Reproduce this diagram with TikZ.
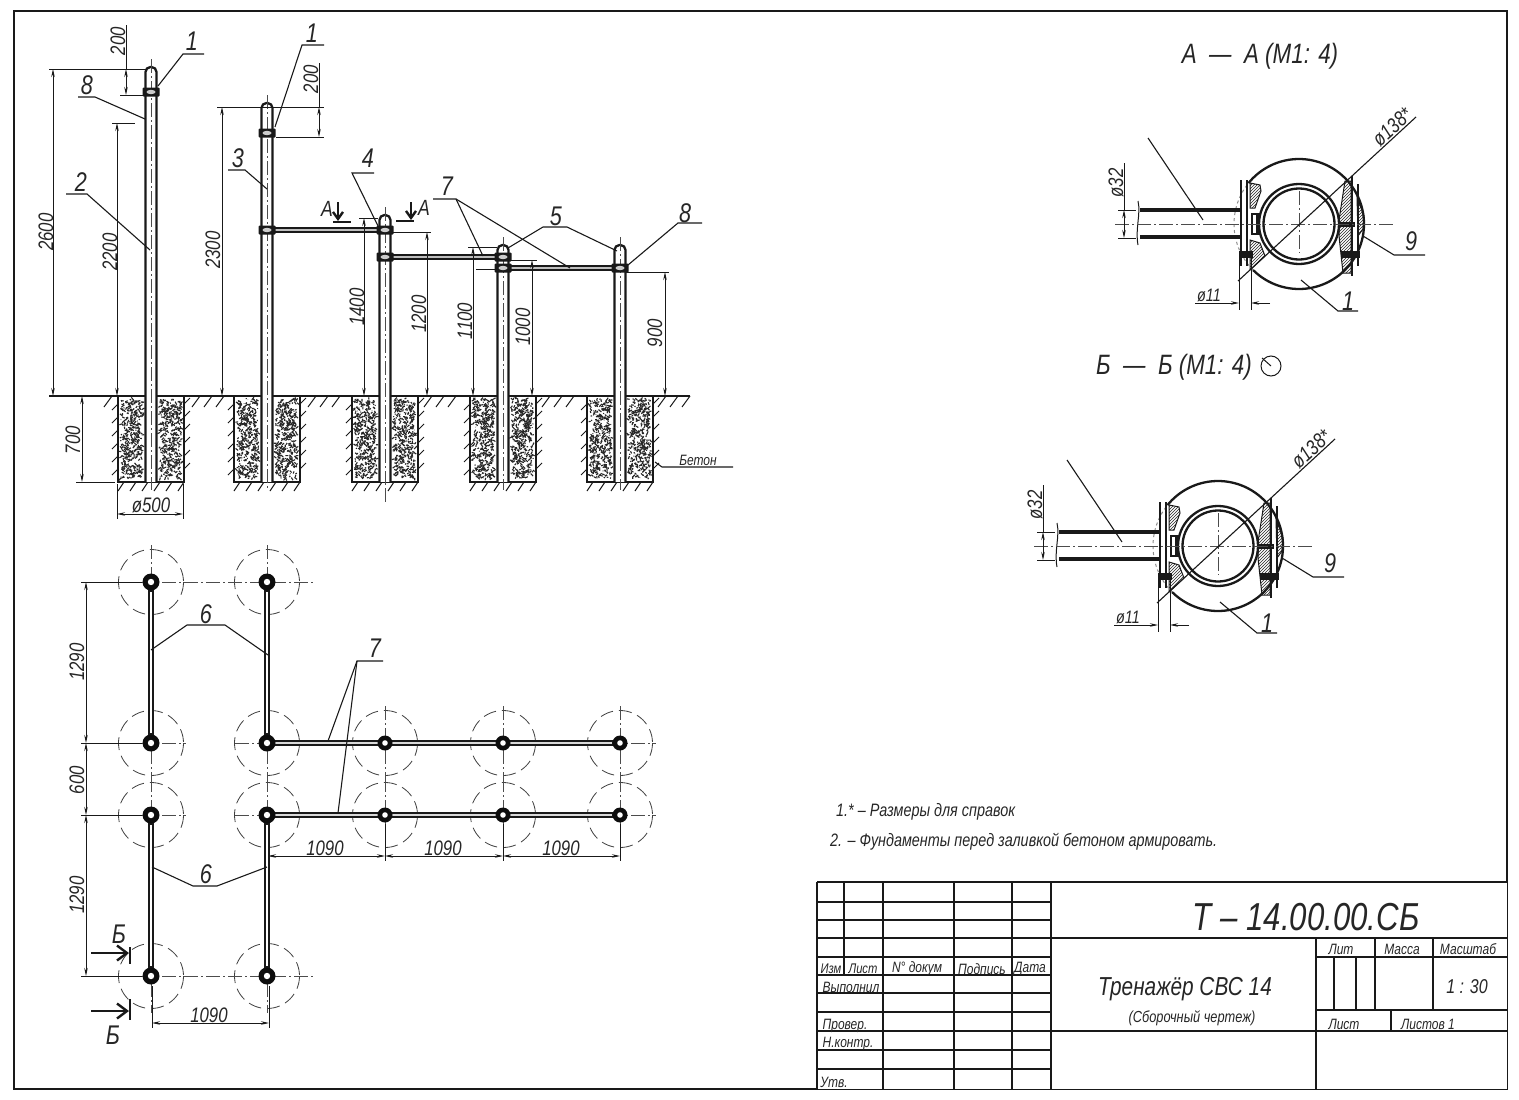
\documentclass[tikz,border=0pt]{standalone}
\usepackage{fontspec}
\setmainfont[FakeStretch=0.8]{Liberation Sans}
\usetikzlibrary{arrows.meta, patterns}

\tikzset{
    txt/.style={font=\itshape\fontsize{#1}{#1}\selectfont, inner sep=0pt, text=black!85},
    frameline/.style={line width=2.4pt, black!90},
    cell/.style={line width=1.5pt, black!90},
    contour/.style={line width=2.3pt, black!90},
    thinline/.style={line width=1pt, black!90},
    dimline/.style={line width=.9pt, black!90, {Stealth[length=8pt,width=3.5pt]}-{Stealth[length=8pt,width=3.5pt]}},
    arrowend/.style={line width=.9pt, black!90, -{Stealth[length=8pt,width=3.5pt]}},
    leader/.style={line width=1.1pt, black!90},
    axisline/.style={line width=.7pt, black!70, dash pattern=on 14pt off 3pt on 2pt off 3pt},
    sitecircle/.style={line width=.8pt, black!75, dash pattern=on 13pt off 6pt},
    bar/.style={line width=5.5pt, black!90},
    barcore/.style={line width=1.4pt, black!25},
    cutarrow/.style={line width=2.4pt, black!90, -{Straight Barb[length=7pt,width=10pt]}},
    cutbarb/.style={line width=2.4pt, black!90, -{Straight Barb[length=10pt,width=15pt]}},
    hatchzone/.style={thinline, pattern=north east lines, pattern color=black!85},
}

\begin{document}
\begin{tikzpicture}[x=1pt,y=-1pt]
\useasboundingbox (0,0) rectangle (1519,1100);

% Sheet frame
\draw[frameline] (14,11) rectangle (1507,1089);

% Footings with concrete
\pgfmathsetseed{11}
\foreach \cx in {151,267,385,503,620}{
    \foreach \i in {1,...,380}{
        \draw[line width=1.1pt,black!85] ({\cx-30+rnd*21},{399+rnd*79}) -- ++({3*rand},{3*rand});
        \draw[line width=1.1pt,black!85] ({\cx+9+rnd*21},{399+rnd*79}) -- ++({3*rand},{3*rand});
    }
    \draw[contour] (\cx-33,396) -- (\cx-33,482) -- (\cx+33,482) -- (\cx+33,396);
    % soil hatching round the footing
    \foreach \hy in {404,417,...,480}{
        \draw[thinline] (\cx-33,\hy) -- ++(-6,6);
        \draw[thinline] (\cx+33,\hy) -- ++(6,-6);
    }
    \foreach \hx in {-27,-15,...,33}{
        \draw[thinline] (\cx+\hx,482) -- ++(-6,9);
    }
}

% Ground line
\draw[contour,line width=1.4pt] (49,396) -- (690,396);
\foreach \hx in {112,200,212,224,316,328,340,432,444,456,550,562,574,666,678,690}{
    \draw[thinline] (\hx,396) -- ++(-8,11);
}

% Posts
\foreach \cx/\ctop in {151/67,267/103,385/215,503/245,620/245}{
    \fill[white] (\cx-5.5,482) rectangle (\cx+5.5,\ctop+4);
    \draw[contour,rounded corners=5pt] (\cx-5.5,482) -- (\cx-5.5,\ctop) -- (\cx+5.5,\ctop) -- (\cx+5.5,482);
    \draw[axisline] (\cx,\ctop-8) -- (\cx,490);
}
\draw[axisline] (385,490) -- (385,502);

% Cross bars
\foreach \xa/\xb/\cy in {267/385/230,385/503/257,503/620/268}{
    \draw[bar] (\xa,\cy) -- (\xb,\cy);
    \draw[barcore] (\xa,\cy) -- (\xb,\cy);
}

% Clamps
\foreach \cx/\cy in {151/92,267/133,267/230,385/230,385/257,503/257,503/268,620/268}{
    \fill[black!90,rounded corners=1pt] (\cx-8.5,\cy-4.5) rectangle (\cx+8.5,\cy+4.5);
    \fill[black!20] (\cx,\cy) ellipse [x radius=4.5, y radius=2.2];
}

% Extension lines of the elevation
\draw[thinline] (49,69) -- (146,69);
\draw[thinline] (120,95) -- (145,95);
\draw[thinline] (112,123) -- (135,123);
\draw[thinline] (217,107) -- (324,107);
\draw[thinline] (276,137) -- (324,137);
\draw[thinline] (359,218) -- (378,218);
\draw[thinline] (393,232) -- (431,232);
\draw[thinline] (468,247) -- (497,247);
\draw[thinline] (510,260) -- (537,260);
\draw[thinline] (476,269) -- (496,269);
\draw[thinline] (626,272) -- (669,272);
\draw[thinline] (76,482) -- (115,482);
\draw[thinline] (117,484) -- (117,519);
\draw[thinline] (183,484) -- (183,519);

% Dimensions of the elevation
\draw[dimline] (53,69) -- (53,396);
\draw[thinline] (126,25) -- (126,69);
\draw[dimline] (126,69) -- (126,95);
\draw[dimline] (117,123) -- (117,396);
\draw[dimline] (222,107) -- (222,396);
\draw[thinline] (319,63) -- (319,107);
\draw[dimline] (319,107) -- (319,137);
\draw[dimline] (364,218) -- (364,396);
\draw[dimline] (427,232) -- (427,396);
\draw[dimline] (473,247) -- (473,396);
\draw[dimline] (532,260) -- (532,396);
\draw[dimline] (665,272) -- (665,396);
\draw[dimline] (82,396) -- (82,482);
\draw[dimline] (117,514) -- (183,514);

\node[txt=21,rotate=90] (dim2600) at (46,232) {2600};
\node[txt=21,rotate=90] (dim200a) at (118,41) {200};
\node[txt=21,rotate=90] (dim2200) at (110,252) {2200};
\node[txt=21,rotate=90] (dim2300) at (213,250) {2300};
\node[txt=21,rotate=90] (dim200b) at (311,79) {200};
\node[txt=21,rotate=90] (dim1400) at (357,307) {1400};
\node[txt=21,rotate=90] (dim1200) at (419,314) {1200};
\node[txt=21,rotate=90] (dim1100) at (465,321) {1100};
\node[txt=21,rotate=90] (dim1000) at (523,327) {1000};
\node[txt=21,rotate=90] (dim900) at (655,333) {900};
\node[txt=21,rotate=90] (dim700) at (73,440) {700};
\node[txt=21] (dim500) at (151,505) {ø500};

% Leaders of the elevation
\draw[leader] (204,54) -- (183,54) -- (158,86);
\draw[leader] (324,45) -- (302,45) -- (275,127);
\draw[leader] (78,97) -- (95,97) -- (145,119);
\draw[leader] (66,194) -- (87,194) -- (150,250);
\draw[leader] (228,170) -- (245,170) -- (267,189);
\draw[leader] (374,173) -- (352,173) -- (378,226);
\draw[leader] (433,199) -- (456,199) -- (483,256);
\draw[leader] (456,199) -- (570,268);
\draw[leader] (508,248) -- (543,227) -- (567,227) -- (617,251);
\draw[leader] (702,223) -- (678,223) -- (628,265);
\draw[leader] (733,467) -- (662,467) -- (655,462);

\node[txt=27] (pos1a) at (192,41) {1};
\node[txt=27] (pos1b) at (312,33) {1};
\node[txt=27] (pos8a) at (87,85) {8};
\node[txt=27] (pos2) at (81,182) {2};
\node[txt=27] (pos3) at (238,158) {3};
\node[txt=27] (pos4) at (368,158) {4};
\node[txt=27] (pos7a) at (447,186) {7};
\node[txt=27] (pos5) at (556,216) {5};
\node[txt=27] (pos8b) at (685,213) {8};
\node[txt=15] (beton) at (698,460) {Бетон};

% Section mark A
\draw[cutarrow] (338,202) -- (338,221);
\draw[contour] (333,222) -- (351,222);
\draw[cutarrow] (411,202) -- (411,220);
\draw[contour] (396,221) -- (414,221);
\node[txt=22] (cutAa) at (327,209) {А};
\node[txt=22] (cutAb) at (424,208) {А};

% Plan: sites
\foreach \cx/\cy in {151/582,267/582,151/743,267/743,151/815,267/815,151/976,267/976,
                     385/743,503/743,620/743,385/815,503/815,620/815}{
    \draw[sitecircle] (\cx,\cy) circle [radius=32.5];
    \draw[axisline] (\cx,\cy-37) -- (\cx,\cy+37);
}
\foreach \cy in {743,815}{
    \draw[axisline] (118,\cy) -- (186,\cy);
    \draw[axisline] (235,\cy) -- (656,\cy);
}
\foreach \cy in {582,976}{
    \draw[axisline] (118,\cy) -- (314,\cy);
}

% Plan: bars
\foreach \cx/\ya/\yb in {151/582/743,267/582/743,151/815/976,267/815/976}{
    \draw[line width=6pt,black!90] (\cx,\ya) -- (\cx,\yb);
    \draw[line width=1.3pt,white] (\cx,\ya+10) -- (\cx,\yb-10);
}
\foreach \cy in {743,815}{
    \draw[line width=6.5pt,black!90] (267,\cy) -- (620,\cy);
    \draw[line width=1.5pt,black!15] (275,\cy) -- (612,\cy);
}

% Plan: posts
\foreach \cx/\cy in {151/582,267/582,151/743,267/743,151/815,267/815,151/976,267/976}{
    \fill[black!95] (\cx,\cy) circle [radius=8.5];
    \fill[white] (\cx,\cy) circle [radius=3.2];
}
\foreach \cx/\cy in {385/743,503/743,620/743,385/815,503/815,620/815}{
    \fill[black!95] (\cx,\cy) circle [radius=7.5];
    \fill[white] (\cx,\cy) circle [radius=2.8];
}

% Plan: dimensions
\foreach \cy in {582,743,815,976}{
    \draw[thinline] (81,\cy) -- (142,\cy);
}
\draw[dimline] (86,582) -- (86,743);
\draw[dimline] (86,743) -- (86,815);
\draw[dimline] (86,815) -- (86,976);
\draw[thinline] (152,986) -- (152,1028);
\draw[thinline] (269,986) -- (269,1028);
\draw[dimline] (152,1023) -- (269,1023);
\foreach \cx in {268,385,503,620}{
    \draw[thinline] (\cx,824) -- (\cx,861);
}
\draw[dimline] (268,856) -- (385,856);
\draw[dimline] (385,856) -- (503,856);
\draw[dimline] (503,856) -- (620,856);

\node[txt=21,rotate=90] (dim1290a) at (77,662) {1290};
\node[txt=21,rotate=90] (dim600) at (77,780) {600};
\node[txt=21,rotate=90] (dim1290b) at (77,895) {1290};
\node[txt=21] (dim1090a) at (209,1015) {1090};
\node[txt=21] (dim1090b) at (325,848) {1090};
\node[txt=21] (dim1090c) at (443,848) {1090};
\node[txt=21] (dim1090d) at (561,848) {1090};

% Plan: leaders
\draw[leader] (151,650) -- (187,625) -- (225,625) -- (268,655);
\draw[leader] (152,867) -- (193,886) -- (217,886) -- (267,867);
\draw[leader] (383,661) -- (357,661) -- (328,741);
\draw[leader] (357,661) -- (338,813);
\node[txt=27] (pos6a) at (206,614) {6};
\node[txt=27] (pos6b) at (206,874) {6};
\node[txt=27] (pos7b) at (375,648) {7};

% Section mark B
\draw[cutbarb] (91,953) -- (129,953);
\draw[contour] (130,947) -- (130,964);
\draw[cutbarb] (91,1011) -- (129,1011);
\draw[contour] (130,999) -- (130,1020);
\node[txt=27] (cutBa) at (119,934) {Б};
\node[txt=27] (cutBb) at (113,1035) {Б};

% Sections A-A and B-B, same drawing twice
\foreach \sx/\sy in {1299/224,1218/546}{
\begin{scope}[shift={(\sx,\sy)}]
    % clamp body
    \draw[contour] plot[domain=-141:-41,samples=40] ({65*cos(\x)},{65*sin(\x)});
    \draw[contour] plot[domain=135:48,samples=40] ({65*cos(\x)},{65*sin(\x)});
    \draw[contour] plot[domain=-41:48,samples=30] ({65*cos(\x)},{65*sin(\x)});
    \draw[thinline,black!45,dashed] plot[domain=135:219,samples=30] ({65*cos(\x)},{65*sin(\x)});
    % pipe
    \draw[contour] (0,0) circle [radius=40];
    \draw[contour] (0,0) circle [radius=35.5];
    % hatched parts, right
    \draw[hatchzone] (46,-43) -- (40,-4) -- (40,12) -- (44,49) -- (52,49) -- (52,-43) -- cycle;
    \draw[hatchzone] (58,-27) -- (65,-8) -- (64,5) -- (59,12) -- cycle;
    \draw[contour] (53,-48) -- (53,52);
    \draw[contour] (59,-40) -- (59,42);
    \fill[black!90] (42,27) rectangle (61,34);
    \fill[black!90] (40,-2) rectangle (56,3);
    % hatched parts, left
    \draw[hatchzone] (-49,-41) -- (-39,-39) -- (-38,-33) -- (-44,-16) -- (-49,-16) -- cycle;
    \draw[hatchzone] (-49,16) -- (-39,19) -- (-34,32) -- (-49,46) -- cycle;
    \draw[contour] (-58,-44) -- (-58,42);
    \draw[contour] (-52,-44) -- (-52,42);
    \fill[black!90] (-48,-11) rectangle (-39,11);
    \fill[white] (-46,-9) rectangle (-43,9);
    \fill[black!90] (-60,27) rectangle (-46,34);
    % rod
    \draw[line width=4.5pt,black!90] (-159,-14) -- (-59,-14);
    \draw[line width=4.5pt,black!90] (-159,13) -- (-59,13);
    \draw[thinline] (-161,-23) .. controls (-158,-10) and (-164,5) .. (-161,21);
    % axes
    \draw[axisline] (-184,0) -- (97,0);
    \draw[axisline] (0,-33) -- (0,29);
    % dimensions
    \draw[thinline] (-181,-14) -- (-163,-14);
    \draw[thinline] (-181,14) -- (-163,14);
    \draw[thinline] (-175,-61) -- (-175,-14);
    \draw[dimline] (-175,-14) -- (-175,14);
    \draw[leader] (117,-107) -- (-61,57);
    \draw[thinline] (-60,30) -- (-60,86);
    \draw[thinline] (-48,30) -- (-48,86);
    \draw[thinline] (-104,79) -- (-72,79);
    \draw[arrowend] (-72,79) -- (-60,79);
    \draw[arrowend] (-29,79) -- (-48,79);
    % leaders
    \draw[leader] (-151,-86) -- (-96,-4);
    \draw[leader] (126,31) -- (95,31) -- (64,12);
    \draw[leader] (59,87) -- (39,87) -- (2,56);
    \node[txt=21,rotate=90] (dim32\sx) at (-183,-41) {ø32};
    \node[txt=21,rotate=42] (dim138\sx) at (93,-97) {ø138*};
    \node[txt=18] (dim11\sx) at (-90,71) {ø11};
    \node[txt=27] (pos9\sx) at (112,17) {9};
    \node[txt=27] (pos1\sx) at (49,77) {1};
\end{scope}
}

% Section titles
\node[txt=28] (titleA) at (1260,56) {А\ \ —\ \ А (М1: 4)};
\node[txt=28] (titleB) at (1174,367) {Б\ \ —\ \ Б (М1: 4)};
\draw[thinline] (1271,366) circle [radius=10];
\draw[thinline] (1262,358) -- (1271,366);

% Notes
\node[txt=18,anchor=west] (note1) at (836,812) {1.* – Размеры для справок};
\node[txt=18,anchor=west] (note2) at (830,842) {2. – Фундаменты перед заливкой бетоном армировать.};

% Title block
\fill[white] (817,882) rectangle (1507,1089);
\draw[frameline] (817,882) -- (1507,882);
\draw[frameline] (817,882) -- (817,1089);
\foreach \cy in {902,920,938,957}{
    \draw[cell] (817,\cy) -- (1050,\cy);
}
\draw[frameline,line width=2pt] (817,975) -- (1050,975);
\foreach \cy in {993,1012,1031,1050,1069}{
    \draw[cell] (817,\cy) -- (1050,\cy);
}
\draw[cell] (844,882) -- (844,975);
\foreach \cx in {883,954,1012}{
    \draw[cell] (\cx,882) -- (\cx,1089);
}
\draw[frameline] (1051,882) -- (1051,1089);
\draw[frameline] (1051,938) -- (1507,938);
\draw[frameline] (1051,1031) -- (1507,1031);
\draw[frameline] (1316,938) -- (1316,1089);
\draw[cell] (1316,957) -- (1507,957);
\draw[frameline] (1316,1010) -- (1507,1010);
\draw[frameline] (1375,938) -- (1375,1010);
\draw[frameline] (1433,938) -- (1433,1010);
\draw[cell] (1334,957) -- (1334,1010);
\draw[cell] (1356,957) -- (1356,1010);
\draw[cell] (1391,1010) -- (1391,1031);

\node[txt=14] (tIzm) at (831,969) {Изм};
\node[txt=14] (tList) at (863,969) {Лист};
\node[txt=15] (tDoc) at (917,969) {N° докум};
\node[txt=15] (tSign) at (982,969) {Подпись};
\node[txt=15] (tDate) at (1030,969) {Дата};
\node[txt=15] (tMade) at (851,987) {Выполнил};
\node[txt=15] (tCheck) at (845,1026) {Провер.};
\node[txt=15] (tNorm) at (848,1044) {Н.контр.};
\node[txt=15] (tAppr) at (834,1082) {Утв.};
\node[txt=39] (tCode) at (1306,917) {Т – 14.00.00.СБ};
\node[txt=26] (tName) at (1185,989) {Тренажёр СВС 14};
\node[txt=16] (tKind) at (1192,1018) {(Сборочный чертеж)};
\node[txt=15] (tLit) at (1341,949) {Лит};
\node[txt=15] (tMass) at (1402,949) {Масса};
\node[txt=15] (tScale) at (1468,949) {Масштаб};
\node[txt=20] (tRatio) at (1467,987) {1 : 30};
\node[txt=15] (tSheet) at (1344,1024) {Лист};
\node[txt=15] (tSheets) at (1428,1024) {Листов 1};

\end{tikzpicture}
\end{document}
